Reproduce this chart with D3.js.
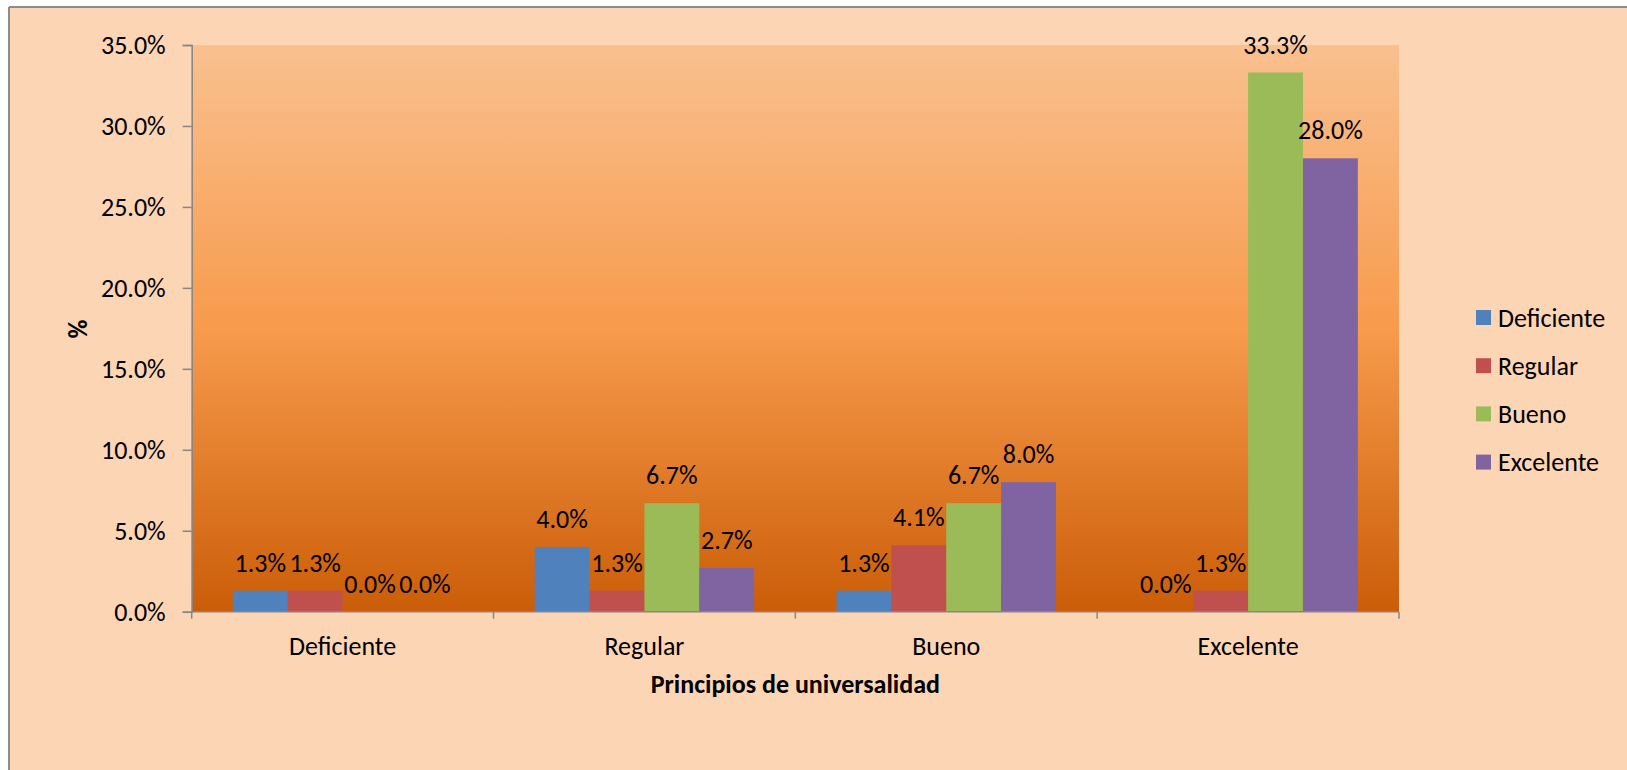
<!DOCTYPE html>
<html>
<head>
<meta charset="utf-8">
<script src="https://cdn.jsdelivr.net/npm/d3@7"></script>
<style>
  html, body { margin: 0; padding: 0; background: #ffffff; }
  svg { display: block; }
  text { font-family: Carlito, Calibri, Lato, "Open Sans", sans-serif; fill: #000; }
</style>
</head>
<body>
<svg id="chart" width="1627" height="770"></svg>
<script>
// Categories on the x axis (Principios de universalidad)
const categories = ["Deficiente", "Regular", "Bueno", "Excelente"];
// Rating series shown in the legend
const seriesNames = ["Deficiente", "Regular", "Bueno", "Excelente"];
// Percent values, one array per series, in category order
const deficienteValues = [1.3, 4.0, 1.3, 0.0];
const regularValues    = [1.3, 1.3, 4.1, 1.3];
const buenoValues      = [0.0, 6.7, 6.7, 33.3];
const excelenteValues  = [0.0, 2.7, 8.0, 28.0];
// Y axis tick values (percent)
const yTicks = [0, 5, 10, 15, 20, 25, 30, 35];

const seriesValues = [deficienteValues, regularValues, buenoValues, excelenteValues];
const colors = ["#4F81BD", "#C0504D", "#9BBB59", "#8064A2"];

const svg = d3.select("#chart");
const W = 1627, H = 770;
const plot = { left: 191.7, right: 1399, top: 45, bottom: 611.7 };
const fontSize = 26;

// Chart area background with its left/top frame
svg.append("rect").attr("x", 9).attr("y", 7).attr("width", W - 9).attr("height", H - 7)
  .attr("fill", "#FCD5B5");
svg.append("line").attr("x1", 9).attr("x2", 9).attr("y1", 7).attr("y2", H)
  .attr("stroke", "#8c8c8c").attr("stroke-width", 2);
svg.append("line").attr("x1", 9).attr("x2", W).attr("y1", 7).attr("y2", 7)
  .attr("stroke", "#8c8c8c").attr("stroke-width", 2);

// Plot area gradient
const defs = svg.append("defs");
const grad = defs.append("linearGradient").attr("id", "plotGrad")
  .attr("x1", 0).attr("y1", 0).attr("x2", 0).attr("y2", 1);
grad.append("stop").attr("offset", "0%").attr("stop-color", "#F9C08F");
grad.append("stop").attr("offset", "50%").attr("stop-color", "#F79B4C");
grad.append("stop").attr("offset", "100%").attr("stop-color", "#CB5D08");
svg.append("rect")
  .attr("x", plot.left).attr("y", plot.top)
  .attr("width", plot.right - plot.left).attr("height", plot.bottom - plot.top)
  .attr("fill", "url(#plotGrad)");

// Scales
const x0 = d3.scaleBand().domain(categories).range([plot.left, plot.right]).padding(0);
const x1 = d3.scaleBand().domain(seriesNames).range([0, x0.bandwidth()])
  .paddingInner(0).paddingOuter(0.75);
const y = d3.scaleLinear().domain([0, 35]).range([plot.bottom, plot.top]);

// Bars
const rows = [];
categories.forEach((c, ci) => {
  seriesNames.forEach((s, si) => {
    rows.push({ cat: c, series: s, value: seriesValues[si][ci], color: colors[si] });
  });
});

svg.append("g").selectAll("rect").data(rows).join("rect")
  .attr("x", d => x0(d.cat) + x1(d.series))
  .attr("y", d => y(d.value))
  .attr("width", x1.bandwidth())
  .attr("height", d => y(0) - y(d.value))
  .attr("fill", d => d.color);

// Data labels
svg.append("g").selectAll("text").data(rows).join("text")
  .attr("x", d => x0(d.cat) + x1(d.series) + x1.bandwidth() / 2)
  .attr("y", d => y(d.value) - 19)
  .attr("text-anchor", "middle")
  .attr("font-size", fontSize)
  .text(d => d.value.toFixed(1) + "%");

// Y axis
const yAxis = d3.axisLeft(y).tickValues(yTicks)
  .tickFormat(d => d.toFixed(1) + "%").tickSize(9).tickPadding(17);
const gy = svg.append("g").attr("transform", `translate(${plot.left},0)`).call(yAxis);
gy.select(".domain").attr("stroke", "#868686").attr("stroke-width", 1.5);
gy.selectAll(".tick line").attr("stroke", "#868686").attr("stroke-width", 1.5);
gy.selectAll(".tick text").attr("font-size", fontSize).attr("font-family", null)
  .attr("fill", "#000");

// X axis: boundary ticks between categories
const gx = svg.append("g").attr("transform", `translate(0,${plot.bottom})`);
gx.append("line").attr("x1", plot.left).attr("x2", plot.right)
  .attr("stroke", "#868686").attr("stroke-width", 1.5);
const bounds = categories.map(c => x0(c)).concat([plot.right]);
gx.selectAll("line.b").data(bounds).join("line").attr("class", "b")
  .attr("x1", d => d).attr("x2", d => d).attr("y1", 0).attr("y2", 7)
  .attr("stroke", "#868686").attr("stroke-width", 1.5);
gx.selectAll("text").data(categories).join("text")
  .attr("x", d => x0(d) + x0.bandwidth() / 2)
  .attr("y", 43.5)
  .attr("text-anchor", "middle")
  .attr("font-size", fontSize)
  .text(d => d);

// Axis titles
svg.append("text")
  .attr("x", (plot.left + plot.right) / 2).attr("y", 693)
  .attr("text-anchor", "middle").attr("font-size", fontSize).attr("font-weight", "bold")
  .text("Principios de universalidad");
svg.append("text")
  .attr("transform", "translate(87,329) rotate(-90)")
  .attr("text-anchor", "middle").attr("font-size", fontSize).attr("font-weight", "bold")
  .text("%");

// Legend
const legend = svg.append("g").attr("transform", "translate(1476,317.5)");
const items = legend.selectAll("g").data(seriesNames).join("g")
  .attr("transform", (d, i) => `translate(0,${i * 48.2})`);
items.append("rect").attr("x", 0).attr("y", -7.5).attr("width", 15).attr("height", 15)
  .attr("fill", (d, i) => colors[i]);
items.append("text").attr("x", 22).attr("y", 9).attr("font-size", fontSize).text(d => d);
</script>
</body>
</html>
